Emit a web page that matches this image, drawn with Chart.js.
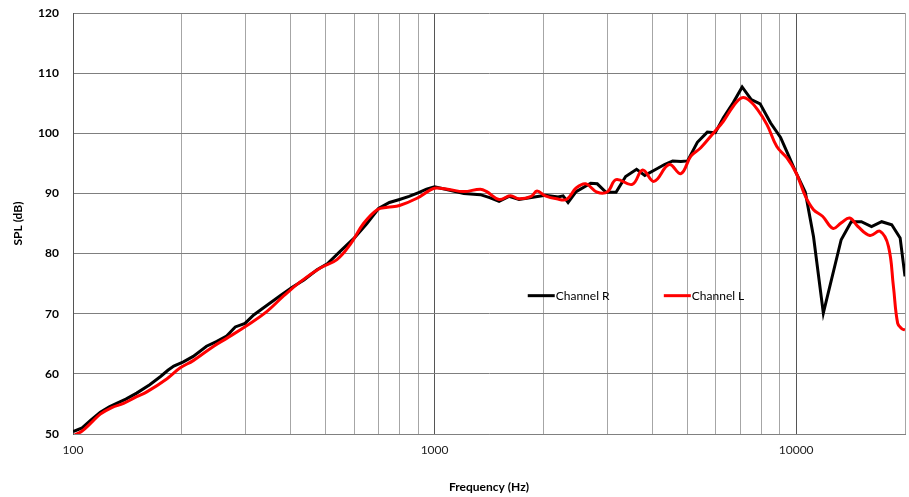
<!DOCTYPE html>
<html>
<head>
<meta charset="utf-8">
<script src="https://cdn.jsdelivr.net/npm/chart.js@4/dist/chart.umd.min.js"></script>
<style>
html,body{margin:0;padding:0;background:#fff;}
#wrap{width:909px;height:497px;}
</style>
</head>
<body>
<div id="wrap"><canvas id="c" width="909" height="497"></canvas></div>
<script>
// ---- data ----
const freqR = [100,106,112,119,126,132,140,150,163,175,183,190,202,215,234,250,266,281,299,316,344,374,404,435,473,505,549,600,650,700,750,800,850,900,950,1000,1087,1205,1338,1420,1508,1606,1712,1889,2024,2197,2267,2340,2463,2702,2818,2979,3176,3376,3620,3814,4061,4324,4555,4801,5008,5330,5680,5975,6291,6700,7090,7515,7950,8500,9055,9544,10000,10600,11170,11890,13320,14200,15150,16160,17240,18380,19390,20000];
const splR  = [50.4,51.0,52.3,53.6,54.5,55.1,55.8,56.8,58.2,59.6,60.6,61.3,62.0,62.9,64.6,65.4,66.3,67.8,68.4,69.8,71.4,73.0,74.4,75.6,77.3,78.3,80.4,82.6,85.0,87.5,88.5,89.0,89.5,90.1,90.7,91.1,90.6,90.0,89.8,89.3,88.7,89.5,89.0,89.4,89.7,89.4,89.6,88.5,90.3,91.7,91.6,90.2,90.2,92.8,94.0,93.0,93.9,94.8,95.4,95.3,95.4,98.5,100.2,100.1,102.6,105.1,107.7,105.6,104.9,101.7,99.3,96.2,93.4,90.2,82.8,70.1,82.3,85.3,85.3,84.5,85.3,84.8,82.6,76.2];

const freqL = [100,106,112,119,128,138,150,160,182,198,215,245,266,302,344,383,425,483,537,584,636,694,741,800,894,974,1010,1087,1205,1338,1394,1508,1621,1712,1850,1920,2024,2175,2316,2463,2618,2818,3011,3176,3522,3762,4043,4454,4800,5115,5447,5915,6291,6700,7065,7373,7830,8310,8840,9430,10000,10610,11170,11830,12640,13320,14060,14820,15990,17060,18000,18580,19090,19600,20000];
const splL  = [49.7,50.5,51.8,53.3,54.4,55.1,56.2,57.0,59.2,61.0,62.2,64.6,65.9,68.0,70.4,73.0,75.3,77.6,79.0,81.5,85.0,87.3,87.7,88.0,89.2,90.6,90.9,90.7,90.3,90.7,90.3,89.0,89.6,89.1,89.5,90.4,89.6,89.1,89.0,90.9,91.6,90.2,90.3,92.3,91.5,93.9,92.0,94.8,93.3,96.2,97.6,100.1,102.0,104.5,105.9,105.6,103.9,101.4,97.8,95.9,93.4,89.5,87.3,86.2,84.2,85.1,85.9,84.5,83.0,83.7,81.2,74.5,68.4,67.5,67.3];

const seriesNames = ['Channel R','Channel L'];
const xLabelTicks = [100,1000,10000];
const xGridTicks = [100,200,300,400,500,600,700,800,900,1000,2000,3000,4000,5000,6000,7000,8000,9000,10000,20000];
const yTicks = [50,60,70,80,90,100,110,120];

const FONT = 'Lato, "Open Sans", sans-serif';

const legendPlugin = {
  id:'inlineLegend',
  afterDatasetsDraw(chart){
    const ctx = chart.ctx;
    const xs = chart.scales.x, ys = chart.scales.y;
    const y = ys.getPixelForValue(73.0);
    const items = [
      {name:seriesNames[0], color:'#000000', x0:xs.getPixelForValue(1810)},
      {name:seriesNames[1], color:'#ff0000', x0:xs.getPixelForValue(4305)}
    ];
    ctx.save();
    ctx.font = '12px ' + FONT;
    ctx.textBaseline = 'middle';
    ctx.textAlign = 'left';
    items.forEach(it=>{
      ctx.strokeStyle = it.color;
      ctx.lineWidth = 3;
      ctx.beginPath();
      ctx.moveTo(it.x0, y);
      ctx.lineTo(it.x0+27, y);
      ctx.stroke();
      ctx.fillStyle = '#000';
      ctx.fillText(it.name, it.x0+28, y);
    });
    ctx.restore();
  }
};

new Chart(document.getElementById('c'), {
  type:'line',
  data:{
    datasets:[
      {
        label:seriesNames[1],
        data:freqL.map((f,i)=>({x:f,y:splL[i]})),
        borderColor:'#ff0000',
        borderWidth:3,
        pointRadius:0,
        tension:0.4,
        fill:false
      },
      {
        label:seriesNames[0],
        data:freqR.map((f,i)=>({x:f,y:splR[i]})),
        borderColor:'#000000',
        borderWidth:3,
        pointRadius:0,
        tension:0,
        fill:false
      }
    ]
  },
  options:{
    responsive:false,
    animation:false,
    devicePixelRatio:1,
    layout:{padding:{top:13,right:4,left:0,bottom:0}},
    plugins:{legend:{display:false},tooltip:{enabled:false}},
    scales:{
      x:{
        type:'logarithmic',
        min:100,max:20000,
        afterBuildTicks(scale){ scale.ticks = xGridTicks.map(v=>({value:v})); },
        afterFit(scale){ scale.height = 63; },
        ticks:{
          autoSkip:false,
          maxRotation:0,
          padding:0,
          color:'#222',
          font:{family:FONT,size:12},
          callback:(v)=> xLabelTicks.includes(v) ? String(v) : ''
        },
        grid:{
          drawTicks:true,
          tickLength:9,
          tickColor:'rgba(0,0,0,0)',
          lineWidth:1,
          color:(c)=>{ const v=c.tick && c.tick.value; return xLabelTicks.includes(v) ? '#555555' : '#a6a6a6'; }
        },
        border:{display:true,color:'#808080',width:1},
        title:{display:true,text:'Frequency (Hz)',color:'#000',font:{family:FONT,size:12,weight:'bold'},padding:{top:14,bottom:3}}
      },
      y:{
        type:'linear',
        min:50,max:120,
        afterBuildTicks(scale){ scale.ticks = yTicks.map(v=>({value:v})); },
        afterFit(scale){ scale.width = 73; },
        ticks:{
          padding:0,
          color:'#000',
          font:{family:FONT,size:12,weight:'bold'}
        },
        grid:{drawTicks:true,tickLength:14,tickColor:'rgba(0,0,0,0)',color:'#7f7f7f',lineWidth:1},
        border:{display:true,color:'#555555',width:1},
        title:{display:true,text:'SPL (dB)',color:'#000',font:{family:FONT,size:12,weight:'bold'},padding:{top:11,bottom:2}}
      }
    }
  },
  plugins:[legendPlugin]
});
</script>
</body>
</html>
